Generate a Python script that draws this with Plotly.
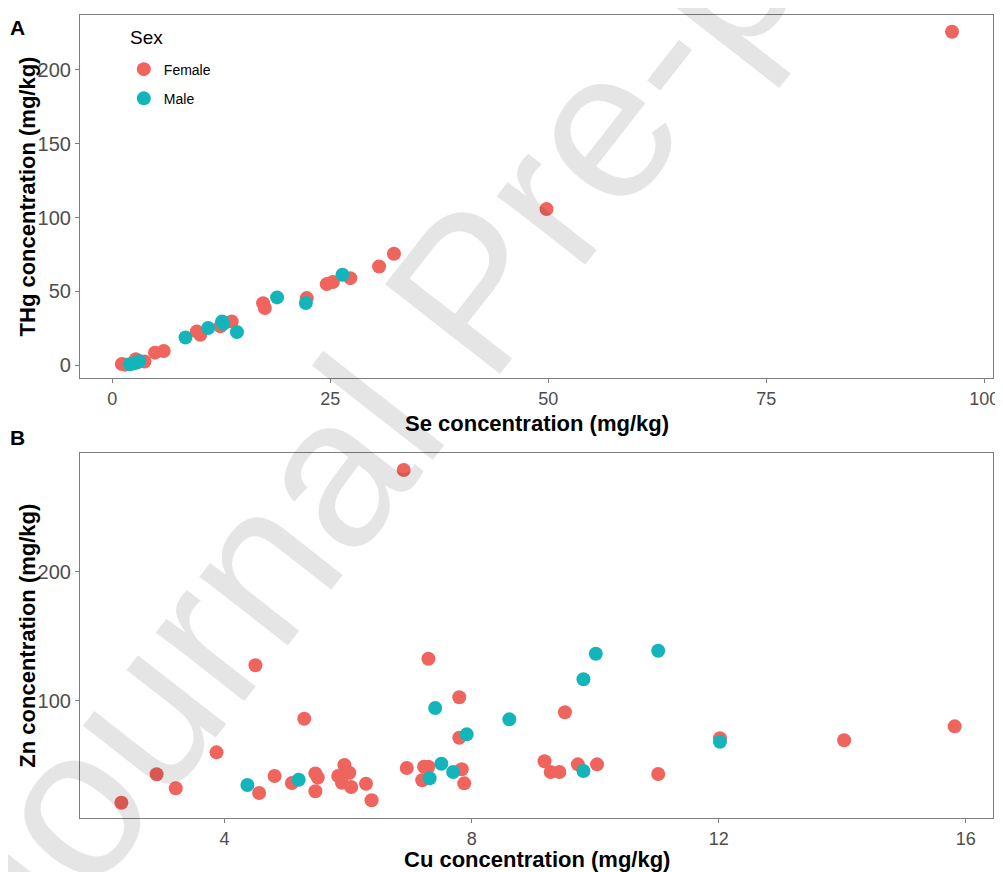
import plotly.graph_objects as go

# ---------------- Panel A data: Se vs THg ----------------
se_female = [1.1, 1.5, 2.7, 3.7, 4.9, 5.9, 9.7, 10.1, 12.4, 13.7, 17.3, 17.5, 22.3, 24.6, 25.3, 27.3, 30.6, 32.3, 49.8, 96.3]
thg_female = [0.9, 0.5, 4.2, 2.6, 8.6, 9.7, 23.0, 20.7, 26.4, 29.7, 42.1, 38.8, 45.5, 55.0, 56.4, 59.0, 66.9, 75.5, 105.7, 225.7]
se_male = [2.0, 2.4, 2.8, 3.1, 8.4, 11.0, 12.6, 12.75, 14.3, 18.9, 22.2, 26.4]
thg_male = [0.8, 1.3, 2.0, 2.8, 18.9, 25.3, 29.7, 28.2, 22.5, 46.0, 42.2, 61.3]

# ---------------- Panel B data: Cu vs Zn ----------------
cu_female = [2.33, 2.90, 3.21, 3.87, 4.50, 4.56, 4.81, 5.09, 5.29, 5.47, 5.51, 5.47, 5.94, 5.84, 6.02, 5.90,
             6.05, 6.29, 6.38, 6.90, 6.95, 7.30, 7.20, 7.23, 7.30, 7.80, 7.80, 7.84, 7.88, 9.18, 9.28, 9.42,
             9.51, 9.72, 10.03, 11.02, 12.02, 14.03, 15.82]
zn_female = [21.3, 43.3, 32.5, 60.3, 127.6, 28.8, 42.0, 36.6, 86.3, 44.0, 40.7, 30.2, 50.5, 42.0, 44.5, 36.8,
             33.5, 36.0, 23.2, 278.7, 48.2, 132.7, 38.7, 49.2, 49.2, 102.9, 71.6, 47.2, 36.3, 53.4, 45.1, 45.1,
             91.3, 51.0, 51.0, 43.5, 71.2, 69.6, 80.4]
cu_male = [4.37, 5.20, 7.32, 7.41, 7.51, 7.70, 7.92, 8.61, 9.81, 9.81, 10.01, 11.02, 12.02]
zn_male = [35.0, 39.1, 40.2, 94.6, 51.5, 45.1, 74.2, 85.8, 45.9, 116.8, 136.6, 138.9, 68.5]

sex_labels = ["Female", "Male"]
colors = {"Female": "#F0645E", "Male": "#14B5BA"}

xticks_a = [0, 25, 50, 75, 100]
yticks_a = [0, 50, 100, 150, 200]
xticks_b = [4, 8, 12, 16]
yticks_b = [100, 200]

FONT = "Liberation Sans, Arial, Helvetica, sans-serif"
MS = 14

fig = go.Figure()
fig.add_trace(go.Scatter(x=se_female, y=thg_female, mode="markers", name=sex_labels[0], legendgroup="F",
                         marker=dict(color=colors["Female"], size=MS), xaxis="x", yaxis="y"))
fig.add_trace(go.Scatter(x=se_male, y=thg_male, mode="markers", name=sex_labels[1], legendgroup="M",
                         marker=dict(color=colors["Male"], size=MS), xaxis="x", yaxis="y"))
fig.add_trace(go.Scatter(x=cu_female, y=zn_female, mode="markers", name=sex_labels[0], legendgroup="F",
                         showlegend=False, marker=dict(color=colors["Female"], size=MS), xaxis="x2", yaxis="y2"))
fig.add_trace(go.Scatter(x=cu_male, y=zn_male, mode="markers", name=sex_labels[1], legendgroup="M",
                         showlegend=False, marker=dict(color=colors["Male"], size=MS), xaxis="x2", yaxis="y2"))

axis_common = dict(showline=True, mirror=True, linecolor="#7f7f7f", linewidth=1.2,
                   ticks="outside", ticklen=4, tickcolor="#7f7f7f", tickwidth=1.2,
                   showgrid=False, zeroline=False, automargin=False)
xtick_font = dict(family=FONT, size=18, color="#4d4d4d")
ytick_font = dict(family=FONT, size=20, color="#4d4d4d")
title_font = dict(family=FONT, size=22, color="black")

# The page body adds an 8px offset, so the figure is 8px smaller with margins compensated.
fig.update_layout(
    width=995, height=864,
    margin=dict(l=72, r=10, t=7, b=54, autoexpand=False),
    paper_bgcolor="white", plot_bgcolor="white",
    font=dict(family=FONT),
    xaxis=dict(domain=[0, 1], anchor="y", range=[-3.7, 101], tickvals=xticks_a, tickfont=xtick_font, **axis_common),
    yaxis=dict(domain=[0.548, 1], anchor="x", range=[-8.5, 237], tickvals=yticks_a, tickfont=ytick_font, **axis_common),
    xaxis2=dict(domain=[0, 1], anchor="y2", range=[1.66, 16.44], tickvals=xticks_b, tickfont=xtick_font, **axis_common),
    yaxis2=dict(domain=[0, 0.4545], anchor="x2", range=[9.5, 291.8], tickvals=yticks_b, tickfont=ytick_font, **axis_common),
    legend=dict(x=0.048, y=0.952, xanchor="left", yanchor="top", bgcolor="rgba(0,0,0,0)",
                font=dict(family=FONT, size=14, color="black"), tracegroupgap=8, itemwidth=30),
    showlegend=True,
)

# axis titles
fig.add_annotation(text="<b>Se concentration (mg/kg)</b>", x=0.5, y=0.4915, xref="paper", yref="paper",
                   showarrow=False, xanchor="center", yanchor="middle", font=title_font)
fig.add_annotation(text="<b>Cu concentration (mg/kg)</b>", x=0.5, y=-0.0515, xref="paper", yref="paper",
                   showarrow=False, xanchor="center", yanchor="middle", font=title_font)
fig.add_annotation(text="<b>THg concentration (mg/kg)</b>", x=-0.057, y=0.774, xref="paper", yref="paper",
                   showarrow=False, xanchor="center", yanchor="middle", textangle=-90, font=title_font)
fig.add_annotation(text="<b>Zn concentration (mg/kg)</b>", x=-0.057, y=0.227, xref="paper", yref="paper",
                   showarrow=False, xanchor="center", yanchor="middle", textangle=-90, font=title_font)

# legend title
fig.add_annotation(text="Sex", x=(128 - 80) / 913, y=0.9726, xref="paper", yref="paper", showarrow=False,
                   xanchor="left", yanchor="middle", font=dict(family=FONT, size=19, color="black"))

# panel tags
fig.add_annotation(text="<b>A</b>", x=-0.068, y=0.985, xref="paper", yref="paper", showarrow=False,
                   xanchor="center", yanchor="middle", font=dict(family=FONT, size=21, color="black"))
fig.add_annotation(text="<b>B</b>", x=-0.068, y=0.474, xref="paper", yref="paper", showarrow=False,
                   xanchor="center", yanchor="middle", font=dict(family=FONT, size=21, color="black"))

# watermark
fig.add_annotation(text="Journal Pre-proof", x=0.4283, y=0.656, xref="paper", yref="paper", showarrow=False,
                   textangle=-52, xanchor="center", yanchor="middle",
                   font=dict(family=FONT, size=212, color="rgba(0,0,0,0.10)"))

fig.write_html("out.html")
